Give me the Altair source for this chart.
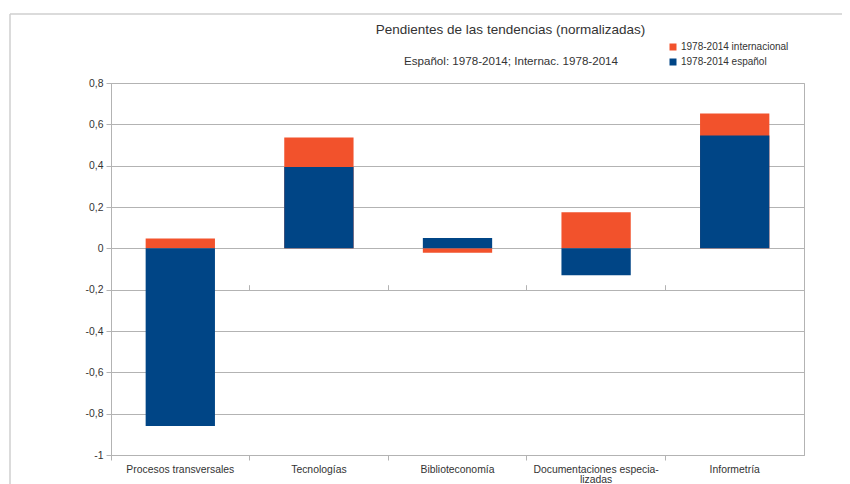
import altair as alt
import pandas as pd

# ---- data ----
categories = ["Procesos transversales", "Tecnologías", "Biblioteconomía",
              "Documentaciones especializadas", "Informetría"]
internacional = [0.047, 0.536, -0.021, 0.175, 0.653]
espanol = [-0.860, 0.394, 0.050, -0.130, 0.546]
series_names = ["1978-2014 internacional", "1978-2014 español"]
series_colors = ["#F2522C", "#004586"]
y_ticks = [-1, -0.8, -0.6, -0.4, -0.2, 0, 0.2, 0.4, 0.6, 0.8]
title_text = "Pendientes de las tendencias (normalizadas)"
subtitle_text = "Español: 1978-2014; Internac. 1978-2014"

rows = []
for s, vals in zip(series_names, [internacional, espanol]):
    for c, v in zip(categories, vals):
        rows.append({"categoria": c, "serie": s, "valor": v})
df = pd.DataFrame(rows)

W, H = 693, 372
GRID = "#b3b3b3"
TXT = "#333333"
FONT = "Liberation Sans"

label_expr = ("datum.label == 'Documentaciones especializadas' ? "
              "['Documentaciones especia-', 'lizadas'] : datum.label")
y_label_expr = "replace(replace(format(datum.value, '.1~f'), '.', ','), '\u2212', '-')"

y_enc = alt.Y(
    "valor:Q",
    stack=None,
    scale=alt.Scale(domain=[-1, 0.8], nice=False, zero=False),
    axis=alt.Axis(values=y_ticks, labelExpr=y_label_expr, title=None,
                  grid=True, gridColor=GRID, domainColor=GRID, tickColor=GRID,
                  tickSize=5, labelPadding=3, labelFontSize=10.4,
                  labelColor=TXT, labelFont=FONT),
)

bars = alt.Chart(df).mark_bar(width=alt.RelativeBandSize(0.5)).encode(
    x=alt.X("categoria:N", sort=categories,
            scale=alt.Scale(paddingInner=0, paddingOuter=0),
            axis=alt.Axis(title=None, labelAngle=0, bandPosition=0, grid=False,
                          tickSize=5, tickColor=GRID, domainColor=GRID,
                          labelPadding=4.5, labelFontSize=10.4, labelColor=TXT,
                          labelFont=FONT, labelExpr=label_expr, labelLimit=300,
                          labelLineHeight=9.5)),
    y=y_enc,
    color=alt.Color("serie:N", scale=alt.Scale(domain=series_names, range=series_colors),
                    legend=alt.Legend(title=None, orient="none", legendX=557, legendY=-41,
                                      symbolType="square", symbolSize=49,
                                      symbolStrokeWidth=0, labelFontSize=10,
                                      labelColor=TXT, labelFont=FONT,
                                      rowPadding=5, labelOffset=3)),
)

# ticks along the zero line (second x axis without labels)
zero_ticks = alt.Chart(df).mark_point(opacity=0).encode(
    x=alt.X("categoria:N", sort=categories,
            scale=alt.Scale(paddingInner=0, paddingOuter=0),
            axis=alt.Axis(title=None, labels=False, domain=False, grid=False,
                          bandPosition=0, tickSize=5, tickColor=GRID,
                          offset=-206.7)),
    y=y_enc,
)

title_df = pd.DataFrame({"texto": [title_text]})
subtitle_df = pd.DataFrame({"texto": [subtitle_text]})

title = alt.Chart(title_df).mark_text(
    fontSize=13.5, font=FONT, color=TXT, align="center", baseline="middle"
).encode(text="texto:N", x=alt.value(399.5), y=alt.value(-53))

subtitle = alt.Chart(subtitle_df).mark_text(
    fontSize=11.6, font=FONT, color=TXT, align="center", baseline="middle"
).encode(text="texto:N", x=alt.value(400), y=alt.value(-21))

frame_left = alt.Chart(title_df).mark_rule(color="#cfcfcf", strokeWidth=1.5).encode(
    x=alt.value(-101), y=alt.value(-69), y2=alt.value(430))
frame_top = alt.Chart(title_df).mark_rule(color="#cfcfcf", strokeWidth=1.5).encode(
    x=alt.value(-101), x2=alt.value(760), y=alt.value(-69))

chart = alt.layer(frame_left, frame_top, bars, zero_ticks, title, subtitle).resolve_axis(
    x="independent"
).properties(
    width=W, height=H,
    autosize=alt.AutoSizeParams(type="none"),
    padding={"left": 103, "top": 75, "right": 38, "bottom": 29},
    background="white",
).configure_view(stroke=GRID, strokeWidth=1)

chart.save("out.html", embed_options={"renderer": "svg", "actions": False})
